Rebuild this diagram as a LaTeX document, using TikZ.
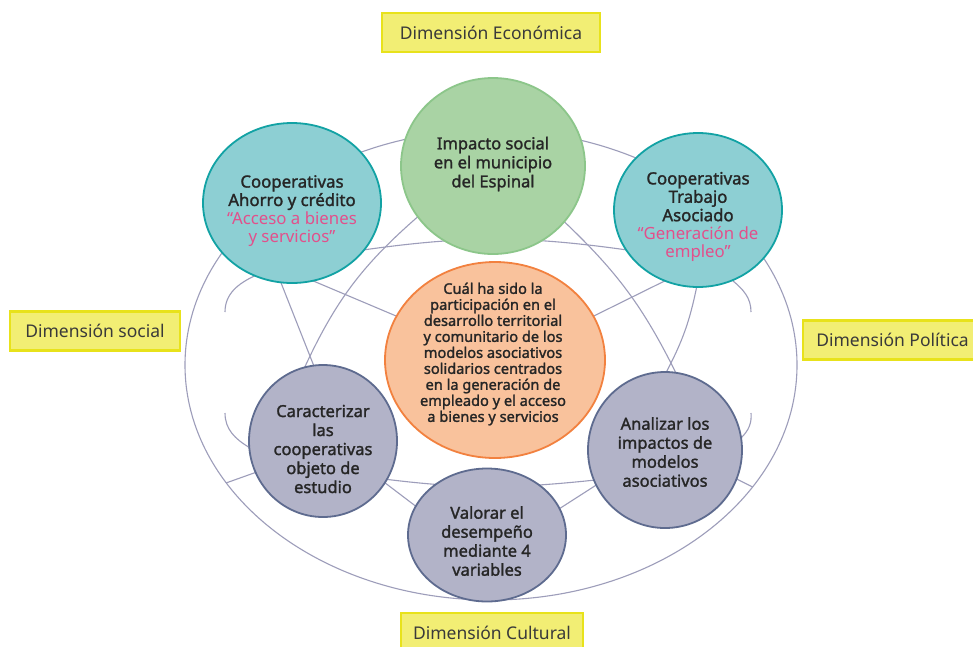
\documentclass[tikz,border=0pt]{standalone}
\usepackage{fontspec}
\setmainfont{Noto Sans}[BoldFont=*, BoldFeatures={FakeBold=1.6}]
\usetikzlibrary{shapes.geometric}
\pgfdeclarelayer{bg}
\pgfsetlayers{bg,main}
\definecolor{grF}{HTML}{A9D3A4}
\definecolor{grD}{HTML}{8CC68A}
\definecolor{tlF}{HTML}{8DCFD3}
\definecolor{tlD}{HTML}{12A2A4}
\definecolor{orF}{HTML}{F9C29C}
\definecolor{orD}{HTML}{F2813F}
\definecolor{gyF}{HTML}{B2B3C8}
\definecolor{gyD}{HTML}{5E6B8F}
\definecolor{ylF}{HTML}{F2EE74}
\definecolor{ylD}{HTML}{E8E21B}
\definecolor{lnc}{HTML}{9D9DBA}
\definecolor{txt}{HTML}{262626}
\definecolor{lbl}{HTML}{3A3A3A}
\definecolor{pk}{HTML}{E2508B}
\begin{document}
\begin{tikzpicture}[x=1pt,y=1pt,
  bub/.style={ellipse, draw, line width=1.8pt, inner sep=0pt, outer sep=0pt},
  greenb/.style={bub, fill=grF, draw=grD},
  tealb/.style={bub, fill=tlF, draw=tlD},
  orangeb/.style={bub, fill=orF, draw=orD},
  grayb/.style={bub, fill=gyF, draw=gyD},
  ringb/.style={ellipse, draw=lnc, line width=1.1pt, inner sep=0pt, outer sep=0pt, minimum width=612pt, minimum height=470pt},
  dimlab/.style={draw=ylD, fill=ylF, line width=2.5pt, minimum height=39pt, inner sep=0pt, outer sep=0pt, text=lbl, font=\fontsize{17.5}{20}\selectfont},
  btxt/.style={align=center, text=txt, inner sep=0pt, font=\fontsize{16.5}{19}\selectfont\bfseries},
  mtxt/.style={align=center, text=txt, inner sep=0pt, font=\fontsize{16.8}{18.4}\selectfont},
  qtxt/.style={align=center, text=txt, inner sep=0pt, font=\fontsize{14.6}{16}\selectfont\bfseries},
  conn/.style={draw=lnc, line width=1.1pt}
]
\useasboundingbox (0,0) rectangle (973,-646);

% bubbles
\node[greenb, minimum width=184pt, minimum height=176pt] (eco) at (493,-166) {};
\node[tealb, minimum width=178pt, minimum height=160pt] (tl) at (292,-203) {};
\node[tealb, minimum width=168pt, minimum height=154pt] (tr) at (698,-210) {};
\node[orangeb, minimum width=220pt, minimum height=196pt] (q) at (495,-360) {};
\node[grayb, minimum width=148pt, minimum height=152pt] (car) at (323,-441) {};
\node[grayb, minimum width=158pt, minimum height=133pt] (val) at (487,-535) {};
\node[grayb, minimum width=154pt, minimum height=156pt] (ana) at (665,-450) {};

% texts
\node[btxt] (eco-t) at (493,-164) {Impacto social\\en el municipio\\del Espinal};
\node[mtxt] (tl-t) at (292,-211) {\textbf{Cooperativas}\\\textbf{Ahorro y crédito}\\\textcolor{pk}{“Acceso a bienes}\\\textcolor{pk}{y servicios”}};
\node[mtxt] (tr-t) at (698,-217) {\textbf{Cooperativas}\\\textbf{Trabajo}\\\textbf{Asociado}\\\textcolor{pk}{“Generación de}\\\textcolor{pk}{empleo”}};
\node[qtxt] (q-t) at (493,-354) {Cuál ha sido la\\participación en el\\desarrollo territorial\\y comunitario de los\\modelos asociativos\\solidarios centrados\\en la generación de\\empleado y el acceso\\a bienes y servicios};
\node[btxt] (car-t) at (323,-449) {Caracterizar\\las\\cooperativas\\objeto de\\estudio};
\node[btxt] (val-t) at (487,-541) {Valorar el\\desempeño\\mediante 4\\variables};
\node[btxt] (ana-t) at (665,-452) {Analizar los\\impactos de\\modelos\\asociativos};

% dimension labels
\node[dimlab, minimum width=218pt] (deco) at (491,-32.5) {Dimensión Económica};
\node[dimlab, minimum width=170pt] (dsoc) at (95,-331) {Dimensión social};
\node[dimlab, minimum width=185pt] (dpol) at (895.5,-340) {\hspace*{-6pt}Dimensión Política};
\node[dimlab, minimum width=182pt] (dcul) at (492,-632.5) {Dimensión Cultural};

% free ends
\coordinate (c1) at (225,-312);
\coordinate (c2) at (225,-413);
\coordinate (c3) at (751,-312);
\coordinate (c4) at (751,-413);

\begin{pgfonlayer}{bg}
\fill[white] (0,0) rectangle (973,-646);
\node[ringb] (ring) at (491,-365) {};
\draw[conn] (tl.-33) to[out=8,in=172] (tr.-151);
\draw[conn] (car.-31) to[out=-7,in=-174] (ana.-157);
\draw[conn] (tl.-98) -- (car.97);
\draw[conn] (tl.-75) -- (q.156);
\draw[conn] (tr.-115) -- (q.24);
\draw[conn] (tr.-91) to[bend left=8] (ana.89);
\draw[conn] (eco.-146) to[bend right=12] (car.104);
\draw[conn] (eco.-38) to[bend left=10] (ana.82);
\draw[conn] (car.-34) -- (val.158);
\draw[conn] (val.20) -- (ana.-153);
\draw[conn] (car.-155) -- (ring.-156);
\draw[conn] (ana.-22) -- (ring.-25);
\draw[conn] (tl.-117) to[out=-155,in=90] (c1);
\draw[conn] (c2) to[out=-90,in=149] (car.-175);
\draw[conn] (tr.-64) to[out=-40,in=90] (c3);
\draw[conn] (c4) to[out=-85,in=45] (ana.9);
\end{pgfonlayer}
\end{tikzpicture}
\end{document}
